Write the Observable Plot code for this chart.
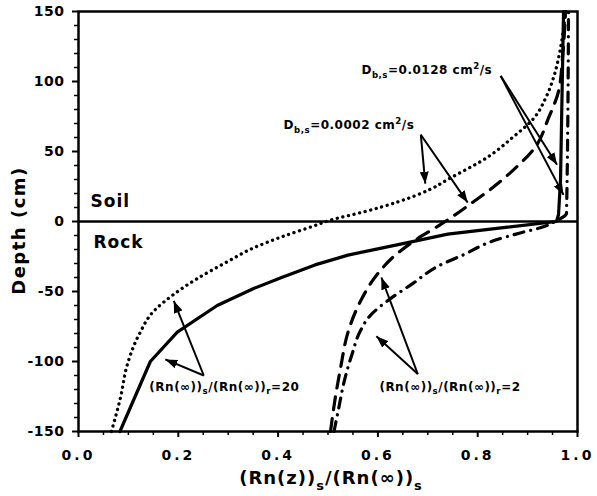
<!DOCTYPE html>
<html><head><meta charset="utf-8">
<script src="https://cdn.jsdelivr.net/npm/d3@7"></script>
<script src="https://cdn.jsdelivr.net/npm/@observablehq/plot@0.6"></script>
<style>
body{margin:0;background:#fff;}
g[aria-label="x-axis tick label"] text{letter-spacing:3px;}
g[aria-label="y-axis tick label"] text{letter-spacing:0.5px;}
</style></head><body><div id="chart"></div>
<script>
// Ratio 20, Db,s = 0.0002 (dotted)
const depthDotted = [-150,-126,-102,-81,-64,-52,-41,-29,-19,-11,-3,1,7,14,23,30,46,60,74,88,104,124,143,150];
const ratioDotted = [0.066,0.084,0.098,0.121,0.151,0.191,0.237,0.297,0.35,0.407,0.473,0.505,0.573,0.64,0.705,0.74,0.82,0.87,0.913,0.936,0.953,0.966,0.974,0.977];
// Ratio 20, Db,s = 0.0128 (solid)
const depthSolid = [-150,-100,-79,-60,-48,-40,-31,-24,-19,-14,-9,-4,0,5,30,150];
const ratioSolid = [0.083,0.144,0.198,0.278,0.35,0.407,0.474,0.54,0.607,0.674,0.74,0.86,0.958,0.962,0.966,0.972];
// Ratio 2, Db,s = 0.0002 (long dash)
const depthDashed = [-150,-125,-105,-78,-57,-38,-24,-14,-3,0,15,22,36,53,74,93,117,150];
const ratioDashed = [0.505,0.515,0.525,0.541,0.565,0.598,0.635,0.672,0.722,0.735,0.795,0.822,0.869,0.915,0.942,0.962,0.97,0.976];
// Ratio 2, Db,s = 0.0128 (dash-dot)
const depthDashDot = [-150,-136,-112,-95,-78,-67,-57,-44,-32,-24,-14,-8,-4,0,6,150];
const ratioDashDot = [0.512,0.52,0.534,0.548,0.565,0.585,0.618,0.671,0.72,0.77,0.83,0.887,0.93,0.955,0.978,0.982];

const xMajor = [0,0.2,0.4,0.6,0.8,1.0];
const xMinor = [0.05,0.1,0.15,0.25,0.3,0.35,0.45,0.5,0.55,0.65,0.7,0.75,0.85,0.9,0.95];
const yMajor = [-150,-100,-50,0,50,100,150];
const yMinor = [-140,-130,-120,-110,-90,-80,-70,-60,-40,-30,-20,-10,10,20,30,40,60,70,80,90,110,120,130,140];

const annotText = ["D_{b,s}=0.0128 cm^{2}/s","D_{b,s}=0.0002 cm^{2}/s","(Rn(∞))_{s}/(Rn(∞))_{r}=20","(Rn(∞))_{s}/(Rn(∞))_{r}=2"];
const annotX = [0.567,0.411,0.142,0.603];
const annotY = [108,69,-118,-118];

const arrowX1 = [0.846,0.846,0.686,0.686,0.251,0.251,0.68,0.68];
const arrowY1 = [104,104,62,62,-110,-110,-109,-109];
const arrowX2 = [0.959,0.972,0.695,0.78,0.174,0.191,0.597,0.607];
const arrowY2 = [40.5,19,27,13.5,-98.5,-56.7,-82,-40];

const zoneText = ["Soil","Rock"];
const zoneX = [0.024,0.03];
const zoneY = [14,-15];

const xLabel = "(Rn(z))_{s}/(Rn(∞))_{s}";
const yLabel = "Depth (cm)";

const rows = (ds, rs) => ds.map((d,i)=>({depth:d, ratio:rs[i]}));
const strip = s => s.replace(/[_^]\{([^}]*)\}/g, "$1");

function triMarker(color, context) {
  const doc = (context && context.document) || document;
  const ns = "http://www.w3.org/2000/svg";
  const m = doc.createElementNS(ns, "marker");
  m.setAttribute("viewBox", "-12 -4.5 12 9");
  m.setAttribute("markerWidth", 12);
  m.setAttribute("markerHeight", 9);
  m.setAttribute("markerUnits", "userSpaceOnUse");
  m.setAttribute("orient", "auto");
  m.setAttribute("refX", 0);
  m.setAttribute("refY", 0);
  const p = doc.createElementNS(ns, "path");
  p.setAttribute("d", "M-12,-4.5L0,0L-12,4.5Z");
  p.setAttribute("fill", color);
  p.setAttribute("stroke", "none");
  m.appendChild(p);
  return m;
}

const chart = Plot.plot({
  width: 597, height: 496,
  marginLeft: 78, marginRight: 20, marginTop: 11, marginBottom: 65,
  style: {fontFamily: "'DejaVu Sans', sans-serif", background: "white", color: "black"},
  x: {domain: [0,1], label: null},
  y: {domain: [-150,150], label: null},
  marks: [
    Plot.frame({strokeWidth: 2.5}),
    Plot.ruleY([0], {strokeWidth: 2.5}),
    Plot.axisX(xMajor, {tickSize: 6, tickPadding: 13, tickFormat: d3.format(".1f"), fontSize: 14, fontWeight: "bold", strokeWidth: 2, label: null}),
    Plot.axisX(xMinor, {tickSize: 4, tickFormat: () => "", strokeWidth: 1.5, label: null}),
    Plot.axisY(yMajor, {tickSize: 6, tickPadding: 8, tickFormat: d => String(d), fontSize: 14, fontWeight: "bold", strokeWidth: 2, label: null}),
    Plot.axisY(yMinor, {tickSize: 4, tickFormat: () => "", strokeWidth: 1.5, label: null}),
    Plot.line(rows(depthDotted, ratioDotted), {x: "ratio", y: "depth", curve: "monotone-y", strokeWidth: 3.3, strokeDasharray: "0.1 5.6", strokeLinecap: "round"}),
    Plot.line(rows(depthSolid, ratioSolid), {x: "ratio", y: "depth", curve: "linear", strokeWidth: 3.2, strokeLinejoin: "round"}),
    Plot.line(rows(depthDashed, ratioDashed), {x: "ratio", y: "depth", curve: "monotone-y", strokeWidth: 3.2, strokeDasharray: "13 9", strokeLinecap: "round"}),
    Plot.line(rows(depthDashDot, ratioDashDot), {x: "ratio", y: "depth", curve: "monotone-y", strokeWidth: 3.2, strokeDasharray: "10 7 0.1 7", strokeLinecap: "round"}),
    Plot.link(arrowX1, {x1: (d,i) => arrowX1[i], y1: (d,i) => arrowY1[i], x2: (d,i) => arrowX2[i], y2: (d,i) => arrowY2[i], strokeWidth: 2, stroke: "black", markerEnd: triMarker}),
    Plot.text(annotText, {x: (d,i) => annotX[i], y: (d,i) => annotY[i], text: d => strip(d), textAnchor: "start", lineAnchor: "middle", fontSize: 12, fontWeight: "bold"}),
    Plot.text(zoneText, {x: (d,i) => zoneX[i], y: (d,i) => zoneY[i], text: d => d, textAnchor: "start", lineAnchor: "middle", fontSize: 17, fontWeight: "bold"}),
    Plot.text([yLabel], {frameAnchor: "left", textAnchor: "middle", lineAnchor: "middle", rotate: -90, dx: -59, dy: 9, fontSize: 18, fontWeight: "bold"}),
    Plot.text([xLabel], {frameAnchor: "bottom", textAnchor: "middle", lineAnchor: "middle", text: d => strip(d), dy: 47, dx: 3, fontSize: 18, fontWeight: "bold"})
  ]
});

function setRich(t, markup, fs) {
  while (t.firstChild) t.removeChild(t.firstChild);
  const re = /([_^])\{([^}]*)\}|([^_^]+)/g;
  let m, cur = 0;
  while ((m = re.exec(markup))) {
    const ts = document.createElementNS("http://www.w3.org/2000/svg", "tspan");
    let target = 0, txt, small = false;
    if (m[3] !== undefined) { txt = m[3]; }
    else { txt = m[2]; small = true; target = m[1] === "_" ? 0.32 * fs : -0.42 * fs; }
    ts.textContent = txt;
    if (target !== cur) ts.setAttribute("dy", target - cur);
    if (small) ts.setAttribute("font-size", 0.72 * fs);
    cur = target;
    t.appendChild(ts);
  }
}
const textGroups = chart.querySelectorAll('g[aria-label="text"]');
// order: annotations, zones, y label, x label
textGroups[0].querySelectorAll("text").forEach((t, i) => { setRich(t, annotText[i], 12); t.style.letterSpacing = "0.5px"; });
textGroups[1].querySelectorAll("text").forEach(t => { t.style.letterSpacing = "1px"; });
textGroups[2].querySelectorAll("text").forEach(t => { t.style.letterSpacing = "1.5px"; });
textGroups[3].querySelectorAll("text").forEach(t => { setRich(t, xLabel, 18); t.style.letterSpacing = "1px"; });
document.getElementById("chart").appendChild(chart);
</script></body></html>
